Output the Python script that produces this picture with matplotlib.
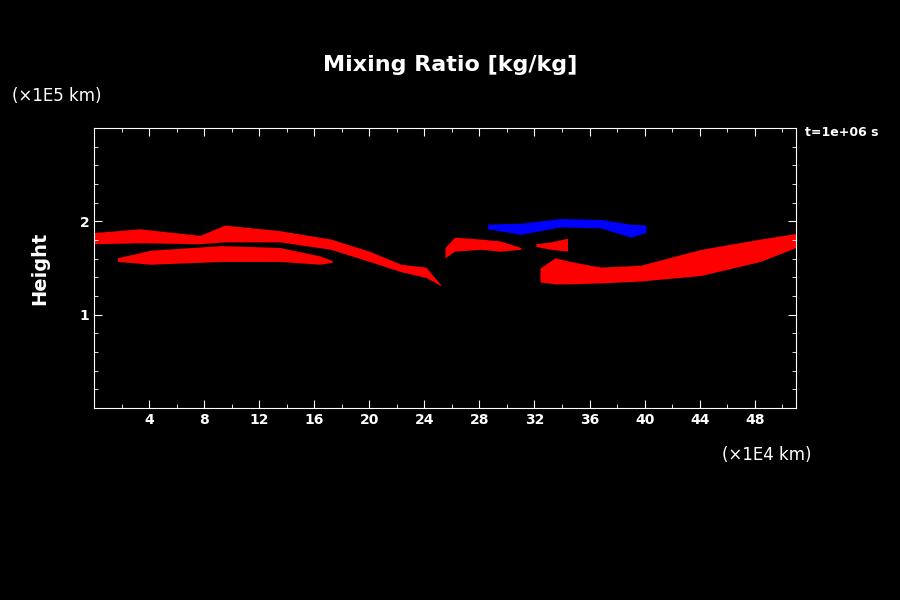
import matplotlib.pyplot as plt
import numpy as np

# band edges (x in 1E4 km, height in 1E5 km)
b1_x = [0, 3.3, 7.7, 9.5, 13.5, 17.2, 20, 22.3, 24.1, 25.2]
b1_top = [1.88, 1.92, 1.85, 1.96, 1.90, 1.81, 1.68, 1.54, 1.51, 1.32]
b1_bot = [1.76, 1.77, 1.76, 1.78, 1.78, 1.70, 1.57, 1.46, 1.40, 1.31]

b2_x = [1.7, 4.1, 9.2, 13.5, 16.4, 17.3]
b2_top = [1.61, 1.69, 1.74, 1.72, 1.63, 1.58]
b2_bot = [1.57, 1.54, 1.57, 1.57, 1.54, 1.56]

b3_x = [25.5, 26.2, 28.1, 29.5, 31.0]
b3_top = [1.72, 1.83, 1.81, 1.79, 1.72]
b3_bot = [1.61, 1.68, 1.70, 1.68, 1.70]

b3b_x = [32.1, 33.2, 34.4]
b3b_top = [1.76, 1.78, 1.82]
b3b_bot = [1.73, 1.70, 1.68]

b4_x = [32.4, 33.5, 34.6, 36.8, 39.7, 44.1, 48.4, 51.0]
b4_top = [1.50, 1.61, 1.57, 1.51, 1.53, 1.70, 1.81, 1.87]
b4_bot = [1.35, 1.33, 1.33, 1.34, 1.36, 1.42, 1.57, 1.72]

blue_x = [28.6, 31.0, 33.9, 36.8, 39.0, 40.1]
blue_top = [1.97, 1.98, 2.03, 2.02, 1.97, 1.96]
blue_bot = [1.92, 1.86, 1.94, 1.93, 1.83, 1.88]

xticks = [4, 8, 12, 16, 20, 24, 28, 32, 36, 40, 44, 48]
yticks = [1, 2]

fig = plt.figure(figsize=(9, 6), dpi=100, facecolor='black')
ax = fig.add_axes([94 / 900, 1 - 408 / 600, 702 / 900, 280 / 600], facecolor='black')

for xs, top, bot in [(b1_x, b1_top, b1_bot), (b2_x, b2_top, b2_bot), (b3_x, b3_top, b3_bot),
                     (b3b_x, b3b_top, b3b_bot), (b4_x, b4_top, b4_bot)]:
    ax.fill_between(xs, bot, top, color='#ff0000', lw=0)
ax.fill_between(blue_x, blue_bot, blue_top, color='#0000ff', lw=0)

ax.set_xlim(0, 51)
ax.set_ylim(0, 3)
ax.set_xticks(xticks)
ax.set_yticks(yticks)
ax.set_xticks(np.arange(2, 51, 2), minor=True)
ax.set_yticks(np.arange(0.2, 3, 0.2), minor=True)
for s in ax.spines.values():
    s.set_color('white')
ax.tick_params(colors='white', direction='in', length=6, labelsize=10, top=True, right=True)
ax.tick_params(which='minor', colors='white', direction='in', length=3, top=True, right=True)
for lab in ax.get_xticklabels() + ax.get_yticklabels():
    lab.set_fontweight('bold')

fig.text(0.5, 1 - 65 / 600, 'Mixing Ratio [kg/kg]', color='white', fontsize=16,
         fontweight='bold', ha='center', va='center')
fig.text(12 / 900, 1 - 96 / 600, '(×1E5 km)', color='white', fontsize=12, va='center')
fig.text(812 / 900, 1 - 455 / 600, '(×1E4 km)', color='white', fontsize=12, va='center', ha='right')
fig.text(805 / 900, 1 - 133 / 600, 't=1e+06 s', color='white', fontsize=9,
         fontweight='bold', va='center')
fig.text(40 / 900, 1 - 268 / 600, 'Height', color='white', fontsize=14, fontweight='bold',
         rotation=90, ha='center', va='center')

fig.savefig('out.png', dpi=100, facecolor='black')
